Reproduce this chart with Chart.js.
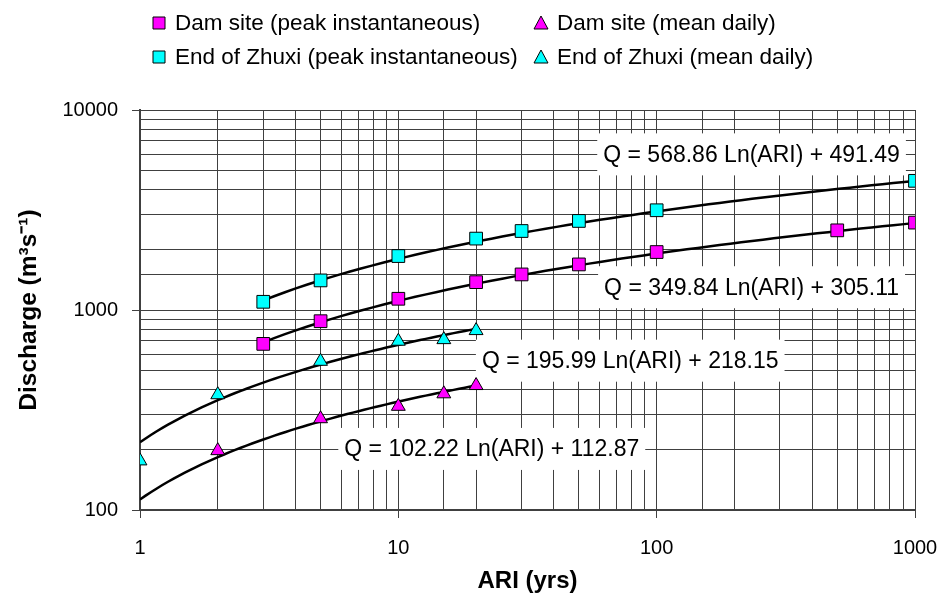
<!DOCTYPE html>
<html>
<head>
<meta charset="utf-8">
<title>Discharge vs ARI</title>
<script src="https://cdn.jsdelivr.net/npm/chart.js@4/dist/chart.umd.min.js"></script>
<style>
  html, body { margin: 0; padding: 0; background: #fff; }
  canvas { display: block; }
</style>
</head>
<body>
<canvas id="ariChart" width="943" height="604"></canvas>
<script>
// Recurrence intervals (years) and observed discharges (m3/s)
var damPeakAri = [3, 5, 10, 20, 30, 50, 100, 500, 1000];
var damPeakQ = [677, 879, 1138, 1378, 1506, 1690, 1949, 2502, 2735];
var zhuxiPeakAri = [3, 5, 10, 20, 30, 50, 100, 1000];
var zhuxiPeakQ = [1099, 1406, 1861, 2275, 2483, 2788, 3153, 4424];
var damDailyAri = [2, 5, 10, 15, 20];
var damDailyQ = [198, 286, 330, 381, 419];
var zhuxiDailyAri = [1, 2, 5, 10, 15, 20];
var zhuxiDailyQ = [176, 377, 554, 698, 711, 789];

// Logarithmic fits Q = a Ln(ARI) + b, with the ARI span each line covers
var fitNames = ['zhuxiPeak', 'damPeak', 'zhuxiDaily', 'damDaily'];
var fitA = [568.86, 349.84, 195.99, 102.22];
var fitB = [491.49, 305.11, 218.15, 112.87];
var fitFrom = [3, 3, 1, 1];
var fitTo = [1000, 1000, 20, 20];

var xTickLabels = [1, 10, 100, 1000];
var yTickLabels = [100, 1000, 10000];

var MAGENTA = '#ff00ff';
var CYAN = '#00ffff';
var FONT = "'Liberation Sans', Arial, Helvetica, sans-serif";

function toPoints(xs, ys) {
    return xs.map(function(x, i) { return { x: x, y: ys[i] }; });
}

function fitLine(k) {
    var pts = [];
    var lo = Math.log10(fitFrom[k]), hi = Math.log10(fitTo[k]);
    var n = 60;
    for (var i = 0; i <= n; i++) {
        var ari = Math.pow(10, lo + (hi - lo) * i / n);
        pts.push({ x: ari, y: fitA[k] * Math.log(ari) + fitB[k] });
    }
    return pts;
}

function isDecade(v) {
    var e = Math.log10(v);
    return Math.abs(e - Math.round(e)) < 1e-6;
}

var markerSets = [
    { label: 'Dam site (peak instantaneous)', data: toPoints(damPeakAri, damPeakQ), pointStyle: 'rect', pointRadius: 9, backgroundColor: MAGENTA },
    { label: 'End of Zhuxi (peak instantaneous)', data: toPoints(zhuxiPeakAri, zhuxiPeakQ), pointStyle: 'rect', pointRadius: 9, backgroundColor: CYAN },
    { label: 'Dam site (mean daily)', data: toPoints(damDailyAri, damDailyQ), pointStyle: 'triangle', pointRadius: 8, backgroundColor: MAGENTA },
    { label: 'End of Zhuxi (mean daily)', data: toPoints(zhuxiDailyAri, zhuxiDailyQ), pointStyle: 'triangle', pointRadius: 8, backgroundColor: CYAN }
];

var datasets = [];
fitNames.forEach(function(name, k) {
    datasets.push({
        label: name + ' fit',
        data: fitLine(k),
        showLine: true,
        borderColor: '#000',
        borderWidth: 2.5,
        pointRadius: 0,
        pointHoverRadius: 0,
        tension: 0,
        order: 2
    });
});
markerSets.forEach(function(m) {
    datasets.push({
        label: m.label,
        data: m.data,
        showLine: false,
        pointStyle: m.pointStyle,
        pointRadius: m.pointRadius,
        pointHoverRadius: m.pointRadius,
        pointBackgroundColor: m.backgroundColor,
        pointBorderColor: '#000',
        pointBorderWidth: 1,
        order: 1
    });
});

// Equation boxes, anchored at (ARI, Q) of their centre
var eqBoxes = {
    id: 'eqBoxes',
    anchorAri: [233, 233, 79, 23],
    anchorQ: [6000, 1300, 558, 202],
    beforeDatasetsDraw: function(chart) {
        var ctx = chart.ctx;
        var xs = chart.scales.x, ys = chart.scales.y;
        ctx.save();
        ctx.font = '23px ' + FONT;
        ctx.textAlign = 'center';
        ctx.textBaseline = 'middle';
        for (var k = 0; k < fitA.length; k++) {
            var text = 'Q = ' + fitA[k].toFixed(2) + ' Ln(ARI) + ' + fitB[k].toFixed(2);
            var cx = xs.getPixelForValue(this.anchorAri[k]);
            var cy = ys.getPixelForValue(this.anchorQ[k]);
            var w = ctx.measureText(text).width + 12;
            var h = 42;
            ctx.fillStyle = '#fff';
            ctx.fillRect(cx - w / 2, cy - h / 2, w, h);
            ctx.fillStyle = '#000';
            ctx.fillText(text, cx, cy + 1);
        }
        ctx.restore();
    }
};

// Two-column legend across the top
var topLegend = {
    id: 'topLegend',
    afterDraw: function(chart) {
        var ctx = chart.ctx;
        var colX = [159, 541];
        var rowY = [23, 57];
        ctx.save();
        ctx.font = '22.5px ' + FONT;
        ctx.textBaseline = 'middle';
        ctx.textAlign = 'left';
        markerSets.forEach(function(m, i) {
            var x = colX[Math.floor(i / 2)];
            var y = rowY[i % 2];
            ctx.fillStyle = m.backgroundColor;
            ctx.strokeStyle = '#000';
            ctx.lineWidth = 1;
            ctx.beginPath();
            if (m.pointStyle === 'rect') {
                ctx.rect(x - 6, y - 6, 12, 12);
            } else {
                ctx.moveTo(x, y - 7);
                ctx.lineTo(x + 7, y + 6);
                ctx.lineTo(x - 7, y + 6);
                ctx.closePath();
            }
            ctx.fill();
            ctx.stroke();
            ctx.fillStyle = '#000';
            ctx.fillText(m.label, x + 16, y + 1);
        });
        ctx.restore();
    }
};

var gridStyle = {
    color: '#404040',
    lineWidth: 1,
    tickLength: 8,
    tickColor: function(c) { return c.tick && isDecade(c.tick.value) ? '#404040' : 'rgba(0,0,0,0)'; }
};

var ctx = document.getElementById('ariChart').getContext('2d');
var ariChart = new Chart(ctx, {
    type: 'scatter',
    data: { datasets: datasets },
    plugins: [eqBoxes, topLegend],
    options: {
        responsive: false,
        animation: false,
        events: [],
        layout: { padding: { top: 110, right: 0, bottom: 0, left: 0 } },
        plugins: {
            legend: { display: false },
            tooltip: { enabled: false }
        },
        scales: {
            x: {
                type: 'logarithmic',
                min: 1,
                max: 1000,
                grid: gridStyle,
                border: { color: '#404040', width: 2 },
                afterFit: function(s) {
                    s.height = 94;
                    s.paddingLeft = 0;
                    s.paddingRight = 28;
                },
                ticks: {
                    autoSkip: false,
                    maxRotation: 0,
                    padding: 18,
                    color: '#000',
                    font: { family: FONT, size: 20 },
                    callback: function(v) { return xTickLabels.indexOf(Math.round(v)) >= 0 && isDecade(v) ? String(Math.round(v)) : ''; }
                },
                title: {
                    display: true,
                    text: 'ARI (yrs)',
                    color: '#000',
                    font: { family: FONT, size: 24, weight: 'bold' },
                    padding: { top: 0, bottom: 8 }
                }
            },
            y: {
                type: 'logarithmic',
                min: 100,
                max: 10000,
                grid: gridStyle,
                border: { color: '#404040', width: 2 },
                afterFit: function(s) {
                    s.width = 140;
                    s.paddingTop = 0;
                    s.paddingBottom = 0;
                },
                ticks: {
                    autoSkip: false,
                    padding: 14,
                    color: '#000',
                    font: { family: FONT, size: 20 },
                    callback: function(v) { return yTickLabels.indexOf(Math.round(v)) >= 0 && isDecade(v) ? String(Math.round(v)) : ''; }
                },
                title: {
                    display: true,
                    text: 'Discharge (m\u00b3s\u207b\u00b9)',
                    color: '#000',
                    font: { family: FONT, size: 24.5, weight: 'bold' },
                    padding: { top: 15, bottom: 0 }
                }
            }
        }
    }
});
</script>
</body>
</html>
